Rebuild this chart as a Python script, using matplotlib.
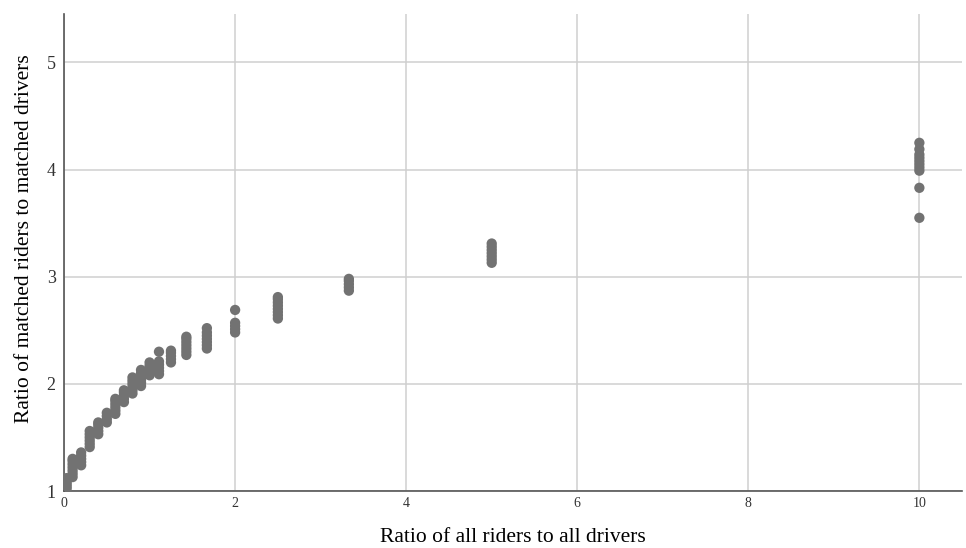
import numpy as np
import matplotlib.pyplot as plt

plt.rcParams['font.family'] = ['Liberation Serif', 'DejaVu Serif']

# ratio of all riders to all drivers (one value per cluster)
x_vals = [0.03, 0.1, 0.2, 0.3, 0.4, 0.5, 0.6, 0.7, 0.8, 0.9, 1.0,
          1.11, 1.25, 1.43, 1.67, 2.0, 2.5, 3.33, 5.0, 10.0]

# ratio of matched riders to matched drivers, read per cluster
y_groups = [
    [1.02, 1.04, 1.06, 1.08, 1.10, 1.12],
    [1.13, 1.16, 1.19, 1.22, 1.25, 1.28, 1.30],
    [1.24, 1.27, 1.30, 1.33, 1.36],
    [1.41, 1.44, 1.47, 1.50, 1.53, 1.56],
    [1.53, 1.56, 1.59, 1.62, 1.64],
    [1.64, 1.67, 1.70, 1.73],
    [1.72, 1.75, 1.78, 1.81, 1.84, 1.86],
    [1.83, 1.86, 1.89, 1.92, 1.94],
    [1.91, 1.94, 1.97, 2.00, 2.03, 2.06],
    [1.98, 2.01, 2.04, 2.07, 2.10, 2.13],
    [2.08, 2.11, 2.14, 2.17, 2.20],
    [2.09, 2.12, 2.15, 2.18, 2.21, 2.30],
    [2.20, 2.23, 2.26, 2.29, 2.31],
    [2.27, 2.30, 2.33, 2.36, 2.39, 2.42, 2.44],
    [2.33, 2.36, 2.39, 2.42, 2.45, 2.48, 2.52],
    [2.48, 2.51, 2.54, 2.57, 2.69],
    [2.61, 2.64, 2.67, 2.70, 2.73, 2.76, 2.79, 2.81],
    [2.87, 2.90, 2.93, 2.96, 2.98],
    [3.13, 3.16, 3.19, 3.22, 3.25, 3.28, 3.31],
    [3.55, 3.83, 3.99, 4.02, 4.05, 4.08, 4.11, 4.14, 4.19, 4.25],
]

xs = []
ys = []
for xv, grp in zip(x_vals, y_groups):
    xs += [xv] * len(grp)
    ys += grp

fig = plt.figure(figsize=(9.66, 5.48), dpi=100)
ax = fig.add_axes([0.0663, 0.104, 0.9297, 0.870])

ax.scatter(xs, ys, s=55, color='#727272', edgecolors='none', zorder=3)

ax.set_xlim(0, 10.5)
ax.set_ylim(1, 5.45)
ax.set_xticks([0, 2, 4, 6, 8, 10])
ax.set_yticks([1, 2, 3, 4, 5])
ax.grid(True, color='#cfcfcf', linewidth=1.1)
ax.set_axisbelow(True)

for s in ['top', 'right']:
    ax.spines[s].set_visible(False)
for s in ['left', 'bottom']:
    ax.spines[s].set_color('#555555')
    ax.spines[s].set_linewidth(1.2)

ax.tick_params(axis='x', length=0, pad=4, labelsize=10, colors='#333333')
ax.tick_params(axis='y', length=0, pad=6, labelsize=13, colors='#333333')

ax.set_xlabel('Ratio of all riders to all drivers', fontsize=15.5, labelpad=13)
ax.set_ylabel('Ratio of matched riders to matched drivers', fontsize=15.5)
ax.yaxis.set_label_coords(-0.033, 0.53)

fig.savefig('out.png', dpi=100)
plt.close(fig)
